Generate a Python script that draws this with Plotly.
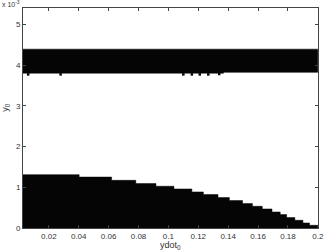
import plotly.graph_objects as go

# lower region: step boundaries (ydot_0) and upper edge (y_0)
lower_x = [0.00275, 0.0403, 0.062, 0.0782, 0.0917, 0.1037, 0.1157, 0.1234, 0.1332, 0.1408,
           0.1496, 0.1562, 0.1628, 0.1693, 0.1748, 0.1791, 0.1846, 0.19, 0.1944, 0.2]
lower_y = [1.31e-3, 1.25e-3, 1.17e-3, 1.09e-3, 1.025e-3, 0.958e-3, 0.885e-3, 0.821e-3, 0.747e-3,
           0.673e-3, 0.600e-3, 0.533e-3, 0.467e-3, 0.393e-3, 0.329e-3, 0.256e-3, 0.189e-3,
           0.123e-3, 0.066e-3, 0.066e-3]

# upper band
band_x = [0.00275, 0.137, 0.2]
band_bottom = [3.80e-3, 3.82e-3, 3.82e-3]
band_top = [4.39e-3, 4.39e-3, 4.39e-3]

# isolated points just below the band
bump_x = [0.0062, 0.0279, 0.110, 0.1157, 0.121, 0.1267, 0.134]
bump_y = [3.77e-3, 3.77e-3, 3.77e-3, 3.77e-3, 3.77e-3, 3.77e-3, 3.78e-3]

x_ticks = [0.02, 0.04, 0.06, 0.08, 0.1, 0.12, 0.14, 0.16, 0.18, 0.2]
x_ticktext = ["0.02", "0.04", "0.06", "0.08", "0.1", "0.12", "0.14", "0.16", "0.18", "0.2"]
y_ticks = [0, 1e-3, 2e-3, 3e-3, 4e-3, 5e-3]
y_ticktext = ["0", "1", "2", "3", "4", "5"]

FILL = "#050505"
fig = go.Figure()
fig.add_trace(go.Scatter(x=lower_x, y=lower_y, mode="lines", line=dict(shape="hv", width=0.5, color=FILL),
                         fill="tozeroy", fillcolor=FILL, hoverinfo="skip"))
fig.add_trace(go.Scatter(x=band_x, y=band_bottom, mode="lines", line=dict(shape="hv", width=0.5, color=FILL),
                         hoverinfo="skip"))
fig.add_trace(go.Scatter(x=band_x, y=band_top, mode="lines", line=dict(shape="hv", width=0.5, color=FILL),
                         fill="tonexty", fillcolor=FILL, hoverinfo="skip"))
fig.add_trace(go.Scatter(x=bump_x, y=bump_y, mode="markers",
                         marker=dict(symbol="square", size=2.5, color=FILL, line=dict(width=0)),
                         hoverinfo="skip"))

FAM = "Liberation Sans, Arial, sans-serif"
font = dict(family=FAM, size=8, color="#333333")
axis_common = dict(showgrid=False, zeroline=False, showline=True, linecolor="#444444", linewidth=1,
                   mirror="ticks", ticks="inside", ticklen=3, tickcolor="#444444", tickfont=font)
fig.update_xaxes(range=[0.00275, 0.20008], tickvals=x_ticks, ticktext=x_ticktext, **axis_common)
fig.update_yaxes(range=[0, 5.4e-3], tickvals=y_ticks, ticktext=y_ticktext, **axis_common)

fig.update_layout(
    width=330, height=251, margin=dict(l=23, r=6, t=8, b=23),
    paper_bgcolor="white", plot_bgcolor="white", showlegend=False,
    annotations=[
        dict(text="ydot<sub>0</sub>", xref="paper", yref="paper", x=0.5, y=-0.045, xanchor="center",
             yanchor="top", showarrow=False, font=dict(family=FAM, size=9, color="#333333")),
        dict(text="y<sub>0</sub>", xref="paper", yref="paper", x=-0.033, y=0.55, xanchor="right",
             yanchor="middle", textangle=-90, showarrow=False,
             font=dict(family=FAM, size=9, color="#333333")),
        dict(text="x 10<sup>-3</sup>", xref="paper", yref="paper", x=-0.003, y=1.02, xanchor="right",
             yanchor="middle", showarrow=False,
             font=dict(family=FAM, size=7, color="#333333")),
    ],
)
fig.write_html("out.html")
